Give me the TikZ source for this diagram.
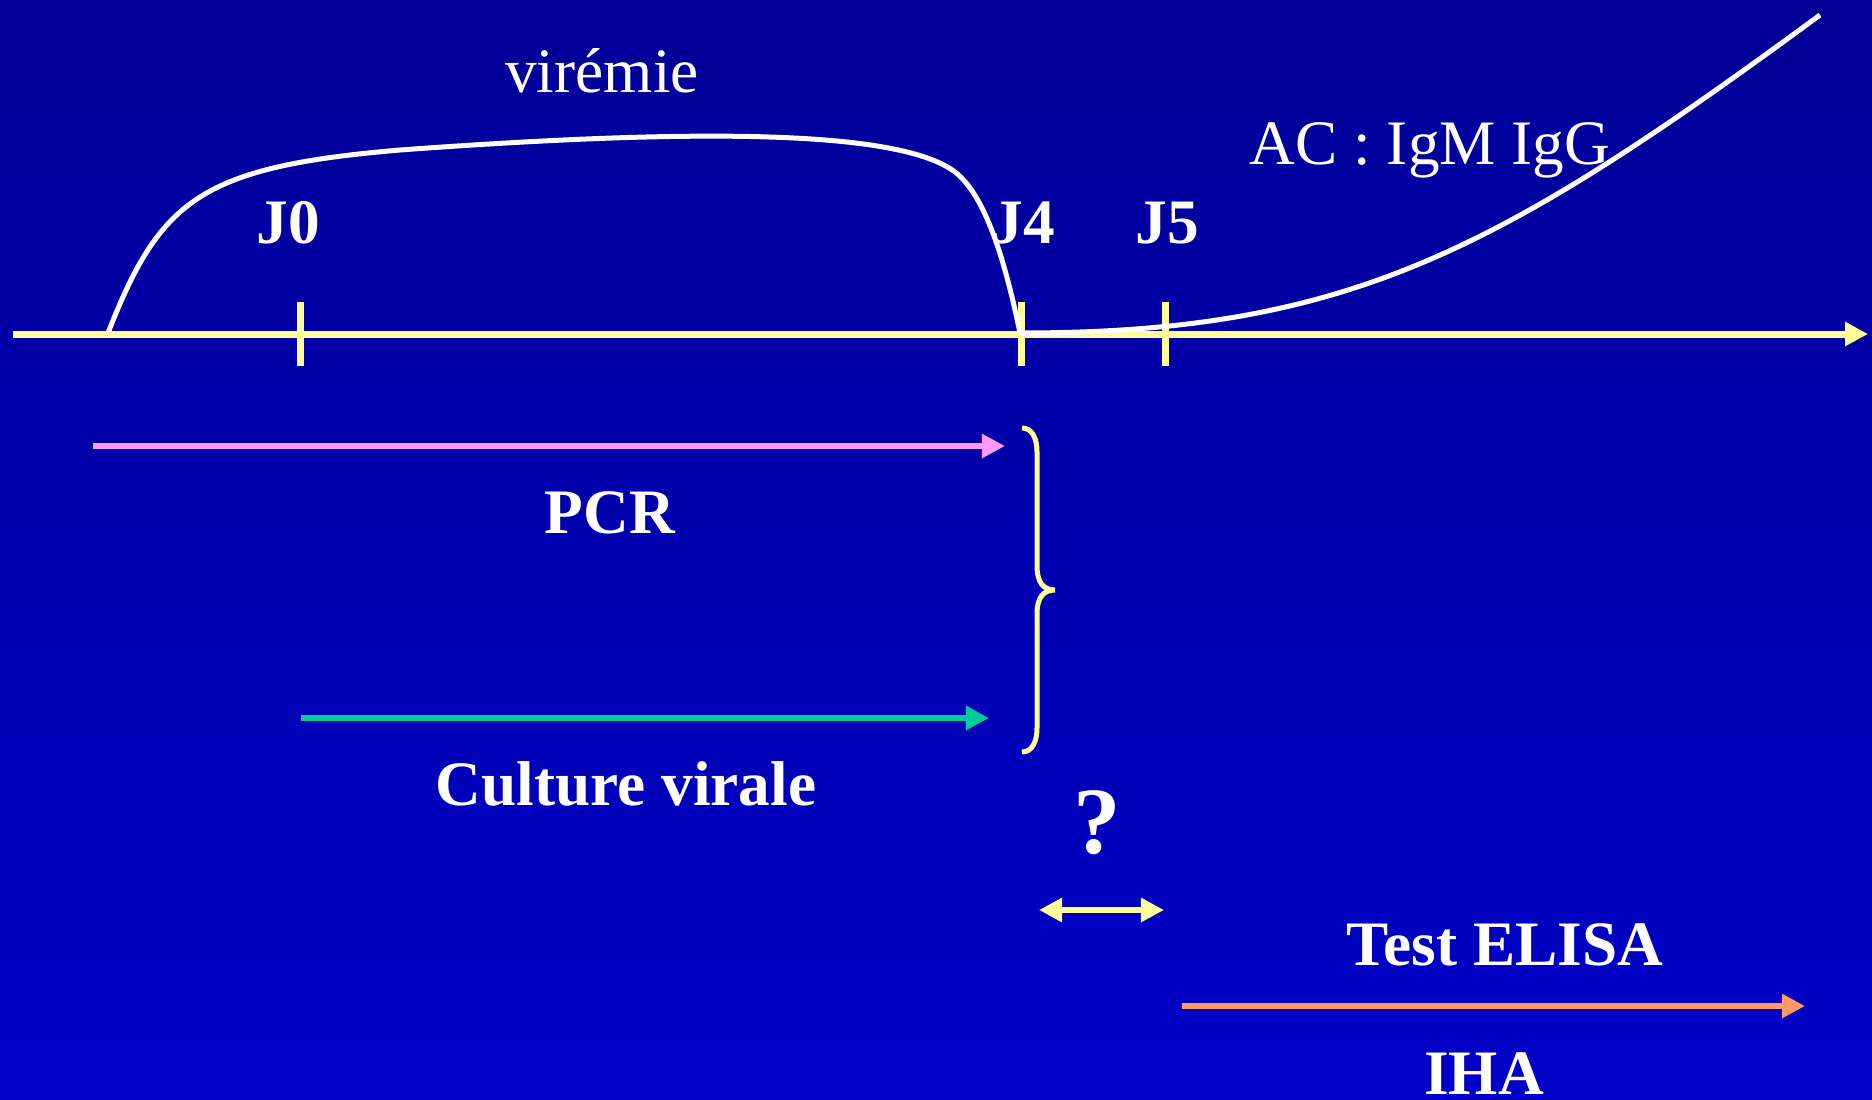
\documentclass[tikz,border=0pt]{standalone}
\usepackage{fontspec}
\setmainfont{Liberation Serif}
\usetikzlibrary{arrows.meta}

\definecolor{fondhaut}{RGB}{0,0,150}
\definecolor{fondbas}{RGB}{0,0,200}
\definecolor{jaune}{RGB}{255,255,153}
\definecolor{rose}{RGB}{255,153,255}
\definecolor{vertd}{RGB}{0,204,153}
\definecolor{saumon}{RGB}{255,153,102}

\tikzset{
  pointe/.style={-{Triangle[length=2.3mm,width=2.3mm]}},
  axe/.style={jaune, line width=0.7mm, pointe},
  graduation/.style={jaune, line width=0.7mm},
  courbe/.style={white, line width=0.5mm},
  fleche/.style={line width=0.65mm, pointe},
  titre/.style={white, anchor=base, inner sep=0pt, font=\fontsize{18}{21}\selectfont},
  gras/.style={titre, font=\fontsize{18}{21}\selectfont\bfseries}
}

\begin{document}
\begin{tikzpicture}[x=0.01cm, y=-0.01cm]
  \useasboundingbox (0,0) rectangle (1872,1100);
  \shade[top color=fondhaut, bottom color=fondbas] (0,0) rectangle (1872,1100);

  % axe du temps
  \coordinate (debut) at (13,334);
  \coordinate (fin) at (1868,334);
  \draw[axe] (debut) -- (fin);

  \draw[graduation] (300,302) -- (300,366);
  \draw[graduation] (1021,302) -- (1021,366);
  \draw[graduation] (1165,302) -- (1165,366);

  \node[gras] (j0) at (288,243) {J0};
  \node[gras] (j4) at (1023,243) {J4};
  \node[gras] (j5) at (1167,243) {J5};

  % viremie puis anticorps
  \draw[courbe] (108,333) .. controls (160,200) and (200,167) .. (400,150)
    .. controls (700,128) and (900,130) .. (955,172)
    .. controls (985,195) and (1005,260) .. (1020,333)
    .. controls (1350,333) and (1500,250) .. (1820,15);

  \node[titre] (viremie) at (602,93) {virémie};
  \node[titre] (ac) at (1430,164) {AC : IgM IgG};

  % techniques
  \coordinate (pcrdebut) at (93,446);
  \coordinate (pcrfin) at (1005,446);
  \draw[fleche, rose] (pcrdebut) -- (pcrfin);
  \node[gras] (pcr) at (610,533) {PCR};

  \coordinate (culdebut) at (301,718);
  \coordinate (culfin) at (989,718);
  \draw[fleche, vertd] (culdebut) -- (culfin);
  \node[gras] (culture) at (626,805) {Culture virale};

  \draw[jaune, line width=0.5mm] (1022,428) .. controls (1032,428) and (1037,438) .. (1037,452)
    -- (1037,566) .. controls (1037,582) and (1043,590) .. (1055,590)
    .. controls (1043,590) and (1037,598) .. (1037,614)
    -- (1037,728) .. controls (1037,742) and (1032,752) .. (1022,752);

  \node[titre, font=\fontsize{27}{30}\selectfont\bfseries] (question) at (1097,853) {?};
  \coordinate (qgauche) at (1039,910);
  \coordinate (qdroite) at (1164,910);
  \draw[jaune, line width=0.65mm, {Triangle[length=2.3mm,width=2.3mm]}-{Triangle[length=2.3mm,width=2.3mm]}] (qgauche) -- (qdroite);

  \node[gras] (elisa) at (1505,965) {Test ELISA};
  \coordinate (elisadebut) at (1182,1006);
  \coordinate (elisafin) at (1805,1006);
  \draw[fleche, saumon] (elisadebut) -- (elisafin);
  \node[gras] (iha) at (1484,1094) {IHA};
\end{tikzpicture}
\end{document}
